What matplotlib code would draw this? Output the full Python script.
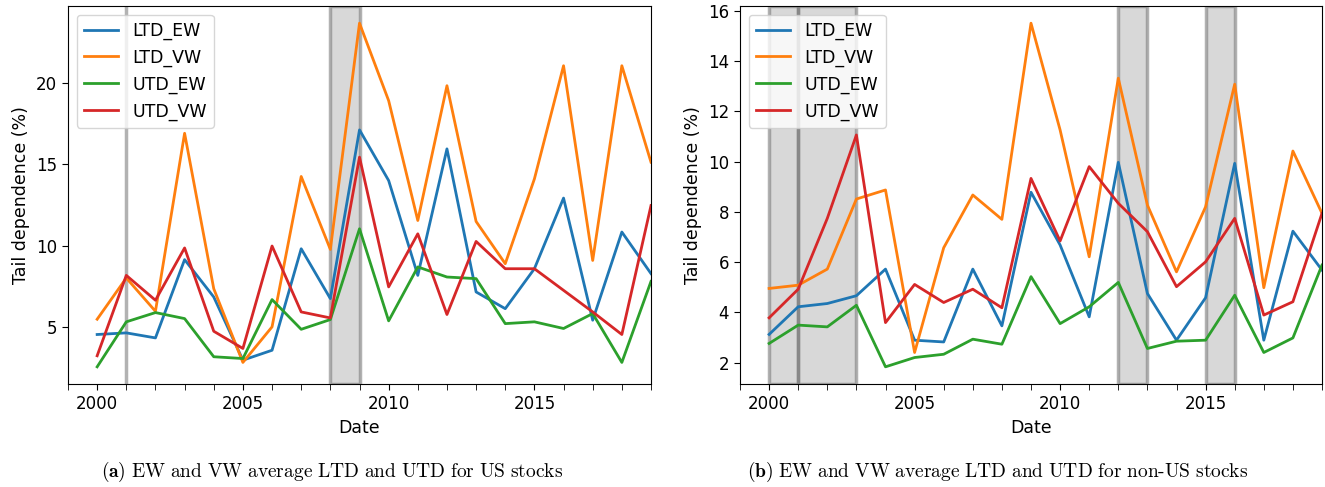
import numpy as np
import matplotlib.pyplot as plt
from matplotlib.ticker import MultipleLocator

years = list(range(2000, 2020))

# US stocks
us_ltd_ew = [4.53, 4.63, 4.32, 9.14, 6.84, 2.95, 3.56, 9.81, 6.74, 17.13,
             14.01, 8.17, 15.96, 7.15, 6.12, 8.58, 12.93, 5.41, 10.84, 8.28]
us_ltd_vw = [5.47, 8.01, 5.96, 16.92, 7.35, 2.81, 5.0, 14.26, 9.77, 23.7,
             18.93, 11.55, 19.85, 11.49, 8.89, 14.11, 21.08, 9.09, 21.08, 15.14]
us_utd_ew = [2.54, 5.31, 5.88, 5.51, 3.16, 3.05, 6.68, 4.85, 5.45, 11.04,
             5.37, 8.69, 8.07, 7.97, 5.2, 5.31, 4.9, 5.82, 2.81, 7.8]
us_utd_vw = [3.22, 8.17, 6.64, 9.86, 4.73, 3.67, 9.98, 5.92, 5.55, 15.45,
             7.46, 10.73, 5.76, 10.26, 8.58, 8.58, 7.25, 5.92, 4.53, 12.47]

# non-US stocks
nus_ltd_ew = [3.12, 4.22, 4.35, 4.66, 5.72, 2.89, 2.82, 5.72, 3.46, 8.78,
              6.68, 3.82, 9.97, 4.75, 2.89, 4.58, 9.93, 2.89, 7.23, 5.68]
nus_ltd_vw = [4.95, 5.08, 5.72, 8.51, 8.87, 2.40, 6.57, 8.67, 7.70, 15.51,
              11.26, 6.21, 13.32, 8.27, 5.61, 8.2, 13.08, 4.98, 10.42, 7.94]
nus_utd_ew = [2.76, 3.49, 3.42, 4.28, 1.83, 2.2, 2.33, 2.93, 2.73, 5.42,
              3.55, 4.22, 5.19, 2.56, 2.85, 2.89, 4.68, 2.4, 2.98, 5.88]
nus_utd_vw = [3.78, 4.92, 7.74, 11.06, 3.59, 5.11, 4.39, 4.92, 4.18, 9.33,
              6.84, 9.8, 8.34, 7.21, 5.02, 6.01, 7.74, 3.89, 4.42, 7.94]

# shaded periods (start, end)
us_spans = [(2001, 2001), (2008, 2009)]
nus_spans = [(2000, 2001), (2001, 2003), (2012, 2013), (2015, 2016)]

labels = ['LTD_EW', 'LTD_VW', 'UTD_EW', 'UTD_VW']

plt.rcParams['mathtext.fontset'] = 'cm'

fig = plt.figure(figsize=(13.25, 4.87), dpi=100)
ax1 = fig.add_axes([68 / 1325, 1 - 384 / 487, 583 / 1325, 378 / 487])
ax2 = fig.add_axes([740 / 1325, 1 - 384 / 487, 582 / 1325, 378 / 487])

panels = [
    (ax1, [us_ltd_ew, us_ltd_vw, us_utd_ew, us_utd_vw], us_spans),
    (ax2, [nus_ltd_ew, nus_ltd_vw, nus_utd_ew, nus_utd_vw], nus_spans),
]

for ax, series, spans in panels:
    for a, b in spans:
        ax.axvspan(a, b, facecolor=(0.5, 0.5, 0.5, 0.3),
                   edgecolor=(0.45, 0.45, 0.45, 0.55), linewidth=2.5, zorder=1)
    for s, lab in zip(series, labels):
        ax.plot(years, s, label=lab, linewidth=2, zorder=2)
    ax.set_xlim(1999, 2019)
    ax.xaxis.set_major_locator(MultipleLocator(5))
    ax.xaxis.set_minor_locator(MultipleLocator(1))
    ax.tick_params(axis='both', which='major', labelsize=12, length=4.5)
    ax.tick_params(axis='x', which='minor', length=4.5)
    ax.set_xlabel('Date', fontsize=12.5)
    ax.set_ylabel('Tail dependence (%)', fontsize=12.5)
    ax.legend(loc='upper left', fontsize=12.5)

ax1.set_yticks([5, 10, 15, 20])

fig.text(0.2505, 0.031,
         r'$\mathbf{(a)}\ \mathrm{EW\ and\ VW\ average\ LTD\ and\ UTD\ for\ US\ stocks}$',
         ha='center', va='center', fontsize=14)
fig.text(0.753, 0.031,
         r'$\mathbf{(b)}\ \mathrm{EW\ and\ VW\ average\ LTD\ and\ UTD\ for\ non\text{-}US\ stocks}$',
         ha='center', va='center', fontsize=14)

fig.savefig('out.png', dpi=100)
